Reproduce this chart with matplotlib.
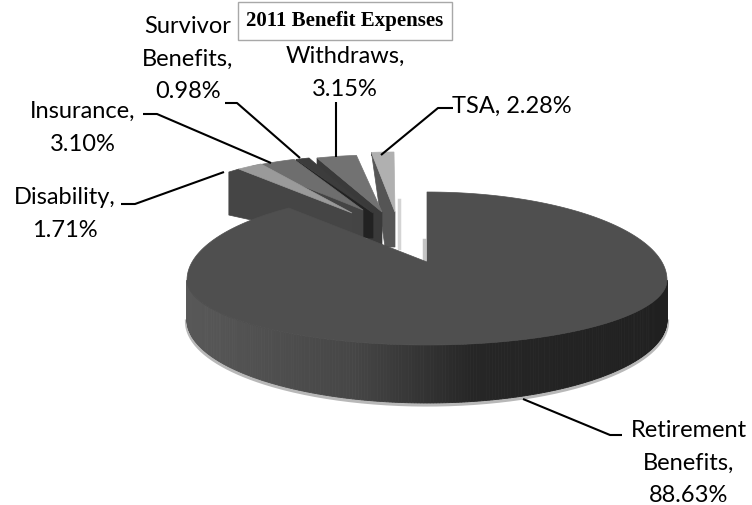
import numpy as np
import matplotlib
matplotlib.use("Agg")
import matplotlib.pyplot as plt
from matplotlib.patches import Polygon

# slice values, clockwise from 12 o'clock
names = ["Retirement\nBenefits", "Disability", "Insurance", "Survivor\nBenefits", "Withdraws", "TSA"]
values = [88.63, 1.71, 3.10, 0.98, 3.15, 2.28]
separators = ["\n", "\n", "\n", "\n", "\n", " "]

top_colors = ["#4f4f4f", "#9a9a9a", "#6e6e6e", "#3c3c3c", "#727272", "#b0b0b0"]
face_colors = [None, "#454545", "#444444", "#222222", "#3a3a3a", "#555555"]

# pie geometry in pixels
CX, CY = 427, 280
RX, RY_UP, RY_DOWN = 240, 88, 65
APEX = (427, 262)
BOTTOM_CY, BOTTOM_RY = 320, 83
FAR_WARP = 1.176  # foreshortening of the far half of the rim

# how far each exploded slice is pulled out (index 1 to 5 of values)
explode_rim = [(-50, -39), (-58, -37), (-56, -37), (-48, -37), (-33, -40)]
explode_apex = [(-75, -49), (-64, -52), (-54, -49), (-45, -50), (-32, -50)]
rim_depth = [46, 8, 6, 8, 0]
apex_depth = [27, 27, 25, 33, 35]
face_skew = [-10, 0, 0, 0, 0]

# leader lines and label centres, same order as values
leaders = [
    [(523, 399), (610, 435), (622, 435)],
    [(121, 204), (135, 204), (224, 172)],
    [(143, 114), (157, 114), (271, 163)],
    [(225, 103), (237, 103), (300, 158)],
    [(336, 102), (336, 157)],
    [(381, 155), (438, 108), (453, 108)],
]
label_pos = [(689, 463), (65, 214), (83, 128), (188, 59), (345, 73), (512, 106)]


def rim(theta):
    th = np.asarray(theta, dtype=float) % 360
    # fold to the angle from 12 o'clock on the far half and warp it
    from_top = np.where(th > 180, th - 360, th)
    far = np.abs(from_top) < 90
    warped = np.sign(from_top) * 90 * (np.abs(from_top) / 90) ** FAR_WARP
    ang = np.radians(np.where(far, warped, from_top))
    ry = np.where(np.cos(ang) > 0, RY_UP, RY_DOWN)
    return CX + RX * np.sin(ang), CY - ry * np.cos(ang)


def side_color(frac):
    # dark grey on the left running into near black on the right
    level = np.interp(frac, [0, 0.35, 0.6, 1], [0x58, 0x46, 0x26, 0x20]) / 255
    return (level, level, level)


fig = plt.figure(figsize=(7.52, 5.05), dpi=100)
ax = fig.add_axes([0, 0, 1, 1])
ax.set_xlim(0, 752)
ax.set_ylim(505, 0)
ax.axis("off")

edges = np.cumsum([0] + values) / sum(values) * 360

# exploded slices, far ones first
for i in range(5, 0, -1):
    k = i - 1
    th = np.linspace(edges[i], edges[i + 1], 20)
    x, y = rim(th)
    x = x + explode_rim[k][0]
    y = y + explode_rim[k][1]
    ax_top, ay_top = APEX[0] + explode_apex[k][0], APEX[1] + explode_apex[k][1]
    face = [
        (x[0], y[0]),
        (x[0] + face_skew[k], y[0] + 3),
        (x[0] + face_skew[k], y[0] + rim_depth[k]),
        (ax_top - 10, ay_top + apex_depth[k]),
        (ax_top, ay_top + apex_depth[k]),
        (ax_top, ay_top),
    ]
    ax.add_patch(Polygon(face, closed=True, fc=face_colors[i], ec=face_colors[i], lw=0.5, zorder=2))
    top = list(zip(x, y)) + [(ax_top, ay_top)]
    ax.add_patch(Polygon(top, closed=True, fc=top_colors[i], ec=top_colors[i], lw=0.5, zorder=2))

# pale sliver on the right of the TSA slice
ax.plot([399, 399], [200, 248], color="#d4d4d4", lw=2.5, zorder=1)
ax.plot([424, 424], [240, 262], color="#c4c4c4", lw=2.5, zorder=1)

# main slice side wall
th_side = np.linspace(90, 270, 241)
x_side, y_side = rim(th_side)
y_low = BOTTOM_CY - BOTTOM_RY * np.cos(np.radians(th_side))
ax.plot(x_side, y_low + 1.5, color="#b8b8b8", lw=3, zorder=2.5)
for j in range(len(th_side) - 1):
    quad = [(x_side[j], y_side[j]), (x_side[j + 1], y_side[j + 1]),
            (x_side[j + 1], y_low[j + 1]), (x_side[j], y_low[j])]
    col = side_color((x_side[j] - 187) / 480)
    ax.add_patch(Polygon(quad, closed=True, fc=col, ec=col, lw=0.6, zorder=3))

# main slice top
th_main = np.linspace(edges[0], edges[1], 300)
x_main, y_main = rim(th_main)
ax.add_patch(Polygon([APEX] + list(zip(x_main, y_main)), closed=True,
                     fc=top_colors[0], ec=top_colors[0], lw=0.5, zorder=4))

# labels
for i in range(len(values)):
    pts = leaders[i]
    ax.plot([p[0] for p in pts], [p[1] for p in pts], color="black", lw=1.5, zorder=5,
            solid_capstyle="butt")
    ax.text(label_pos[i][0], label_pos[i][1], f"{names[i]},{separators[i]}{values[i]:.2f}%",
            ha="center", va="center", family="Lato", fontsize=17, linespacing=1.7,
            color="black", zorder=6)

ax.text(345, 21, "2011 Benefit Expenses", ha="center", va="center", family="Liberation Serif",
        fontweight="bold", fontsize=15, color="black", zorder=7,
        bbox=dict(boxstyle="square,pad=0.42", fc="white", ec="#a8a8a8", lw=1))

fig.savefig("out.png", dpi=100)
